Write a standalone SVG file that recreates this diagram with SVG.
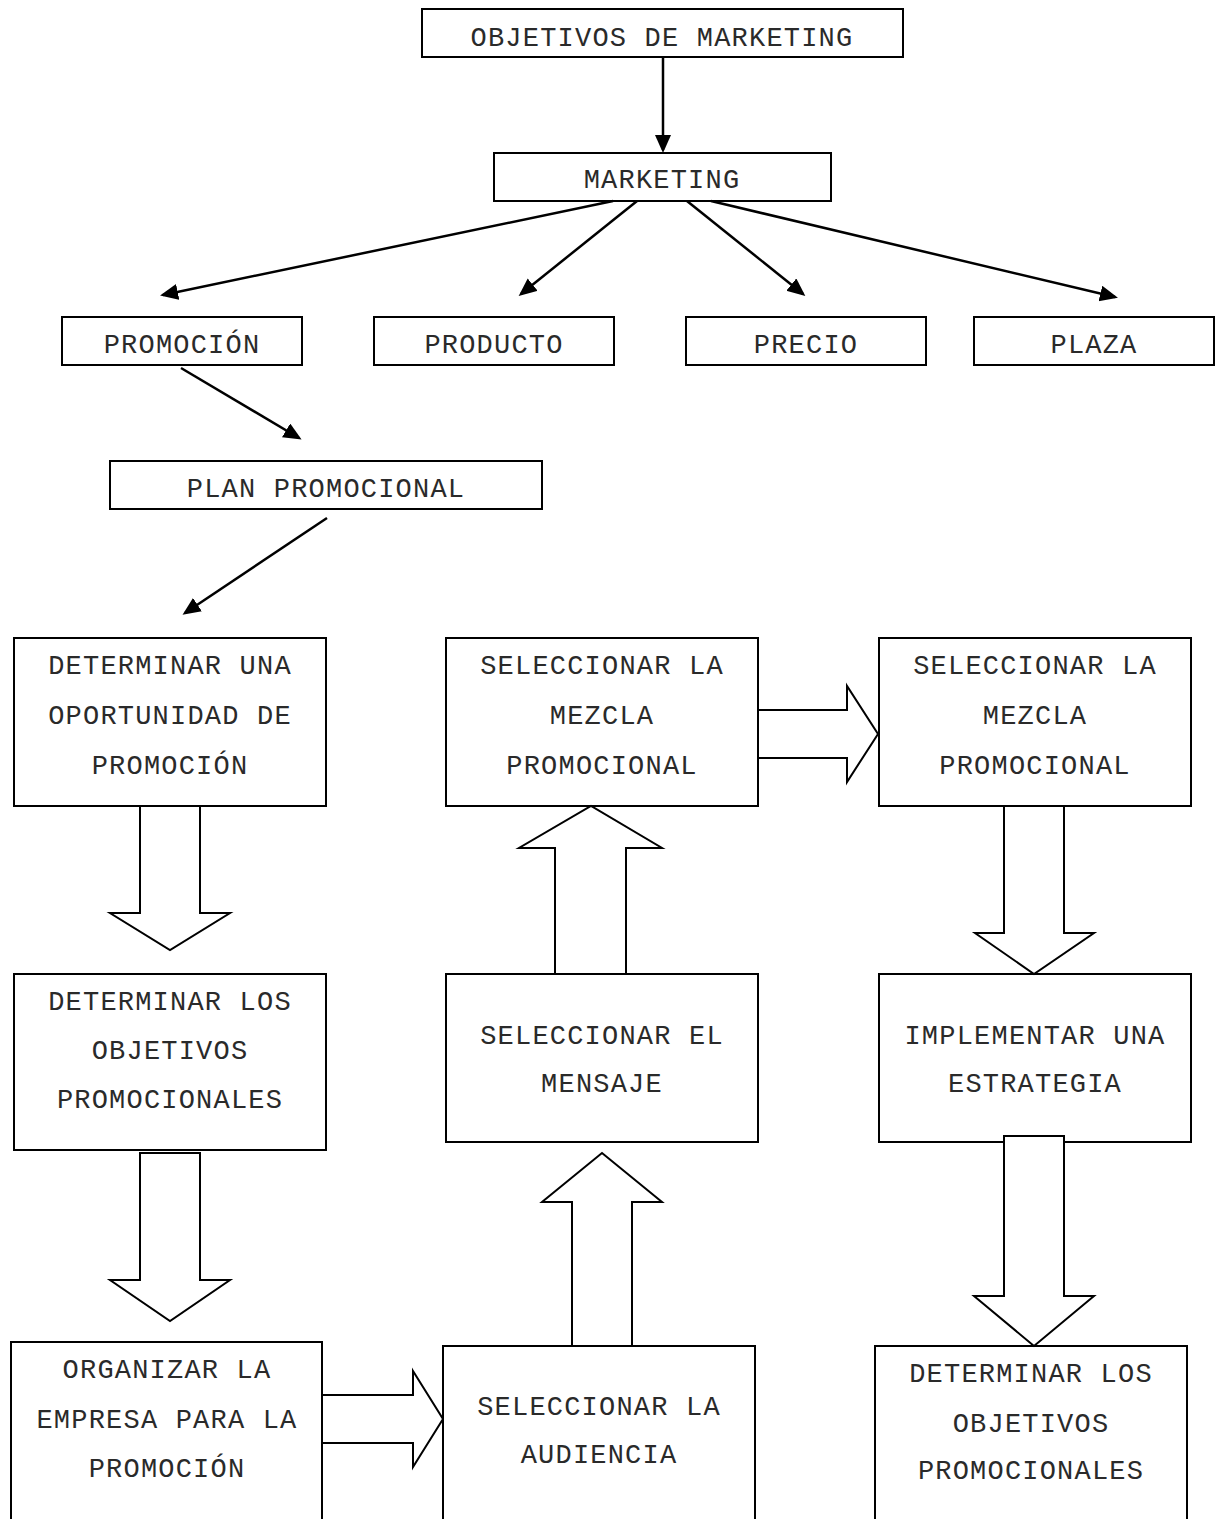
<svg xmlns="http://www.w3.org/2000/svg" width="1221" height="1519" viewBox="0 0 1221 1519">
<style>
.box{fill:#fff;stroke:#000;stroke-width:2}
.t{font-family:"Liberation Mono","Courier New",monospace;font-size:27px;letter-spacing:1.2px;fill:#2a2a2a;text-anchor:middle}
.ln{stroke:#000;stroke-width:2.5;fill:none}
.blk{fill:#fff;stroke:#000;stroke-width:2;stroke-linejoin:miter}
</style>
<defs>
<marker id="ah" markerUnits="userSpaceOnUse" markerWidth="20" markerHeight="18" refX="15" refY="8" orient="auto">
<path d="M0,0 L18,8 L0,16 z" fill="#000"/>
</marker>
</defs>
<rect width="1221" height="1519" fill="#fff"/>

<g id="n-objetivos"><rect class="box" x="422" y="9" width="481" height="48"/><text class="t" x="662" y="46">OBJETIVOS DE MARKETING</text></g>
<g id="n-marketing"><rect class="box" x="494" y="153" width="337" height="48"/><text class="t" x="662" y="188">MARKETING</text></g>
<g id="n-promocion"><rect class="box" x="62" y="317" width="240" height="48"/><text class="t" x="182" y="353">PROMOCIÓN</text></g>
<g id="n-producto"><rect class="box" x="374" y="317" width="240" height="48"/><text class="t" x="494" y="353">PRODUCTO</text></g>
<g id="n-precio"><rect class="box" x="686" y="317" width="240" height="48"/><text class="t" x="806" y="353">PRECIO</text></g>
<g id="n-plaza"><rect class="box" x="974" y="317" width="240" height="48"/><text class="t" x="1094" y="353">PLAZA</text></g>
<g id="n-plan"><rect class="box" x="110" y="461" width="432" height="48"/><text class="t" x="326" y="497">PLAN PROMOCIONAL</text></g>

<g id="n-oportunidad"><rect class="box" x="14" y="638" width="312" height="168"/>
<text class="t" x="170" y="674">DETERMINAR UNA</text><text class="t" x="170" y="724">OPORTUNIDAD DE</text><text class="t" x="170" y="774">PROMOCIÓN</text></g>
<g id="n-objetivos-prom-1"><rect class="box" x="14" y="974" width="312" height="176"/>
<text class="t" x="170" y="1010">DETERMINAR LOS</text><text class="t" x="170" y="1059">OBJETIVOS</text><text class="t" x="170" y="1108">PROMOCIONALES</text></g>
<g id="n-organizar"><rect class="box" x="11" y="1342" width="311" height="190"/>
<text class="t" x="167" y="1378">ORGANIZAR LA</text><text class="t" x="167" y="1428">EMPRESA PARA LA</text><text class="t" x="167" y="1477">PROMOCIÓN</text></g>

<g id="n-mezcla-1"><rect class="box" x="446" y="638" width="312" height="168"/>
<text class="t" x="602" y="674">SELECCIONAR LA</text><text class="t" x="602" y="724">MEZCLA</text><text class="t" x="602" y="774">PROMOCIONAL</text></g>
<g id="n-mensaje"><rect class="box" x="446" y="974" width="312" height="168"/>
<text class="t" x="602" y="1044">SELECCIONAR EL</text><text class="t" x="602" y="1092">MENSAJE</text></g>
<g id="n-audiencia"><rect class="box" x="443" y="1346" width="312" height="190"/>
<text class="t" x="599" y="1415">SELECCIONAR LA</text><text class="t" x="599" y="1463">AUDIENCIA</text></g>

<g id="n-mezcla-2"><rect class="box" x="879" y="638" width="312" height="168"/>
<text class="t" x="1035" y="674">SELECCIONAR LA</text><text class="t" x="1035" y="724">MEZCLA</text><text class="t" x="1035" y="774">PROMOCIONAL</text></g>
<g id="n-implementar"><rect class="box" x="879" y="974" width="312" height="168"/>
<text class="t" x="1035" y="1044">IMPLEMENTAR UNA</text><text class="t" x="1035" y="1092">ESTRATEGIA</text></g>
<g id="n-objetivos-prom-2"><rect class="box" x="875" y="1346" width="312" height="190"/>
<text class="t" x="1031" y="1382">DETERMINAR LOS</text><text class="t" x="1031" y="1432">OBJETIVOS</text><text class="t" x="1031" y="1479">PROMOCIONALES</text></g>

<g id="connectors">
<line class="ln" x1="663" y1="57" x2="663" y2="150" marker-end="url(#ah)"/>
<line class="ln" x1="613" y1="201" x2="163" y2="295" marker-end="url(#ah)"/>
<line class="ln" x1="637" y1="201" x2="521" y2="294" marker-end="url(#ah)"/>
<line class="ln" x1="687" y1="201" x2="803" y2="294" marker-end="url(#ah)"/>
<line class="ln" x1="711" y1="201" x2="1115" y2="297" marker-end="url(#ah)"/>
<line class="ln" x1="181" y1="368" x2="299" y2="438" marker-end="url(#ah)"/>
<line class="ln" x1="327" y1="518" x2="185" y2="613" marker-end="url(#ah)"/>

<polygon class="blk" points="140,806 200,806 200,913 230,913 170,950 110,913 140,913"/>
<polygon class="blk" points="140,1153 200,1153 200,1280 230,1280 170,1321 110,1280 140,1280"/>
<polygon class="blk" points="322,1395 413,1395 413,1371 443,1419 413,1467 413,1443 322,1443"/>
<polygon class="blk" points="572,1346 572,1202 542,1202 602,1153 662,1202 632,1202 632,1346"/>
<polygon class="blk" points="555,974 555,848 519,848 591,806 662,848 626,848 626,974"/>
<polygon class="blk" points="758,710 847,710 847,686 878,734 847,782 847,758 758,758"/>
<polygon class="blk" points="1004,806 1004,933 975,933 1034,974 1094,933 1064,933 1064,806"/>
<polygon class="blk" points="1004,1136 1064,1136 1064,1296 1094,1296 1034,1346 974,1296 1004,1296"/>
</g>
</svg>
